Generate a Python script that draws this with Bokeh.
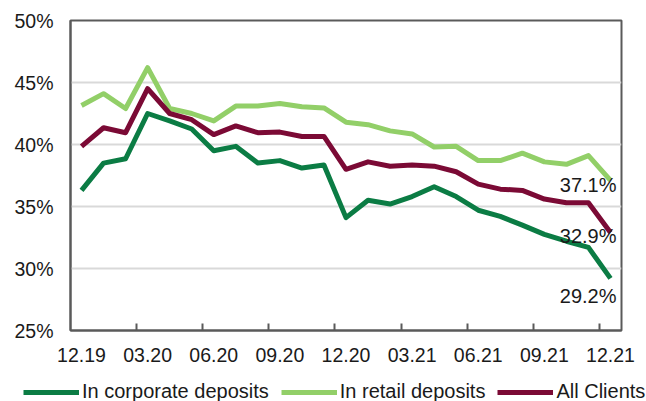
from bokeh.plotting import figure
from bokeh.layouts import column
from bokeh.models import (ColumnDataSource, FixedTicker, Legend, LegendItem,
                          Range1d, PrintfTickFormatter)
from bokeh.core.properties import value
from bokeh.embed import file_html
from bokeh.resources import INLINE

# ---- data -------------------------------------------------------------
months = ["12.19", "01.20", "02.20", "03.20", "04.20", "05.20", "06.20",
          "07.20", "08.20", "09.20", "10.20", "11.20", "12.20", "01.21",
          "02.21", "03.21", "04.21", "05.21", "06.21", "07.21", "08.21",
          "09.21", "10.21", "11.21", "12.21"]

corporate = [36.3, 38.5, 38.85, 42.5, 41.9, 41.25, 39.5, 39.85, 38.5, 38.7,
             38.1, 38.35, 34.1, 35.5, 35.2, 35.8, 36.6, 35.8, 34.7, 34.2,
             33.5, 32.75, 32.2, 31.7, 29.2]
retail = [43.15, 44.1, 42.9, 46.2, 42.9, 42.5, 41.9, 43.1, 43.1, 43.3,
          43.05, 42.95, 41.8, 41.6, 41.1, 40.85, 39.8, 39.85, 38.7, 38.7,
          39.3, 38.6, 38.4, 39.1, 37.1]
all_clients = [39.85, 41.35, 40.95, 44.5, 42.5, 42.0, 40.8, 41.5, 40.95, 41.0,
               40.65, 40.65, 38.0, 38.6, 38.25, 38.35, 38.25, 37.8, 36.8, 36.4,
               36.3, 35.6, 35.3, 35.3, 32.9]

series_names = ["In corporate deposits", "In retail deposits", "All Clients"]
y_ticks = [25, 30, 35, 40, 45, 50]
label_every = 3

# ---- styling ----------------------------------------------------------
FONT = "Liberation Sans"
FS = "19.5px"
FS_LEG = "20px"
colors = ["#0b7c44", "#92cf68", "#7b0a35"]
frame_col = "#5a5a5a"
txt_col = "#1a1a1a"
end_label_offsets = [18, 5, 3]   # vertical pixel offsets of end labels

x = list(range(len(months)))

p = figure(width=646, height=375, output_backend="svg", toolbar_location=None,
           x_range=Range1d(-0.5, len(months) - 0.5),
           y_range=Range1d(y_ticks[0], y_ticks[-1]),
           min_border_left=70, min_border_right=25, min_border_top=20,
           min_border_bottom=45)
p.frame_align = False

p.outline_line_color = frame_col
p.outline_line_width = 2
p.background_fill_color = "white"
p.border_fill_color = "white"

# x axis
major = x[::label_every]
minor = [i - 0.5 for i in major[1:]]
p.xaxis.ticker = FixedTicker(ticks=major, minor_ticks=minor)
p.xaxis.major_label_overrides = {i: months[i] for i in major}
p.xaxis.major_tick_line_color = None
p.xaxis.major_tick_out = 0
p.xaxis.major_tick_in = 0
p.xaxis.minor_tick_line_color = frame_col
p.xaxis.minor_tick_line_width = 2
p.xaxis.minor_tick_out = 0
p.xaxis.minor_tick_in = 7
p.xaxis.axis_line_color = frame_col
p.xaxis.axis_line_width = 2
p.xaxis.major_label_text_font = FONT
p.xaxis.major_label_text_font_size = FS
p.xaxis.major_label_text_color = txt_col
p.xaxis.major_label_standoff = 17

# y axis
p.yaxis.ticker = FixedTicker(ticks=y_ticks)
p.yaxis.formatter = PrintfTickFormatter(format="%d%%")
p.yaxis.major_tick_line_color = None
p.yaxis.minor_tick_line_color = None
p.yaxis.major_tick_out = 0
p.yaxis.major_tick_in = 0
p.yaxis.axis_line_color = frame_col
p.yaxis.axis_line_width = 2
p.yaxis.major_label_text_font = FONT
p.yaxis.major_label_text_font_size = FS
p.yaxis.major_label_text_color = txt_col
p.yaxis.major_label_standoff = 17

p.xgrid.grid_line_color = None
p.ygrid.ticker = FixedTicker(ticks=y_ticks[1:-1])
p.ygrid.grid_line_color = "#d9d9d9"
p.ygrid.grid_line_width = 2

# legend lives in its own full-width strip under the chart
lf = figure(width=646, height=26, output_backend="svg", toolbar_location=None,
            x_axis_type=None, y_axis_type=None,
            x_range=Range1d(0, 1), y_range=Range1d(0, 1),
            min_border_left=0, min_border_right=0, min_border_top=0,
            min_border_bottom=0)
lf.frame_align = False
lf.outline_line_color = None
lf.grid.grid_line_color = None
lf.background_fill_color = "white"
lf.border_fill_color = "white"

items = []
for name, ys, col, yoff in zip(series_names, [corporate, retail, all_clients],
                               colors, end_label_offsets):
    src = ColumnDataSource(dict(x=x, y=ys))
    p.line("x", "y", source=src, line_color=col, line_width=5,
           line_join="round")
    # same data, outside the strip's view: only its legend key shows
    key = lf.line("x", "y", source=src, line_color=col, line_width=5)
    items.append(LegendItem(label=name, renderers=[key]))
    lab = ColumnDataSource(dict(x=[x[-1]], y=[ys[-1]],
                                t=["%.1f%%" % ys[-1]]))
    p.text("x", "y", text="t", source=lab, text_align="right",
           text_baseline="middle", x_offset=6, y_offset=yoff,
           text_font=value(FONT), text_font_size=FS_LEG, text_color=txt_col)

legend = Legend(items=items, orientation="horizontal", location=(23, -2))
legend.label_text_font = FONT
legend.label_text_font_size = FS_LEG
legend.label_text_color = txt_col
legend.glyph_width = 56
legend.glyph_height = 20
legend.label_height = 20
legend.label_standoff = 3
legend.spacing = 12
legend.padding = 0
legend.margin = 0
legend.border_line_color = None
legend.background_fill_alpha = 0
lf.add_layout(legend)

open("out.html", "w").write(file_html(column(p, lf), INLINE))
